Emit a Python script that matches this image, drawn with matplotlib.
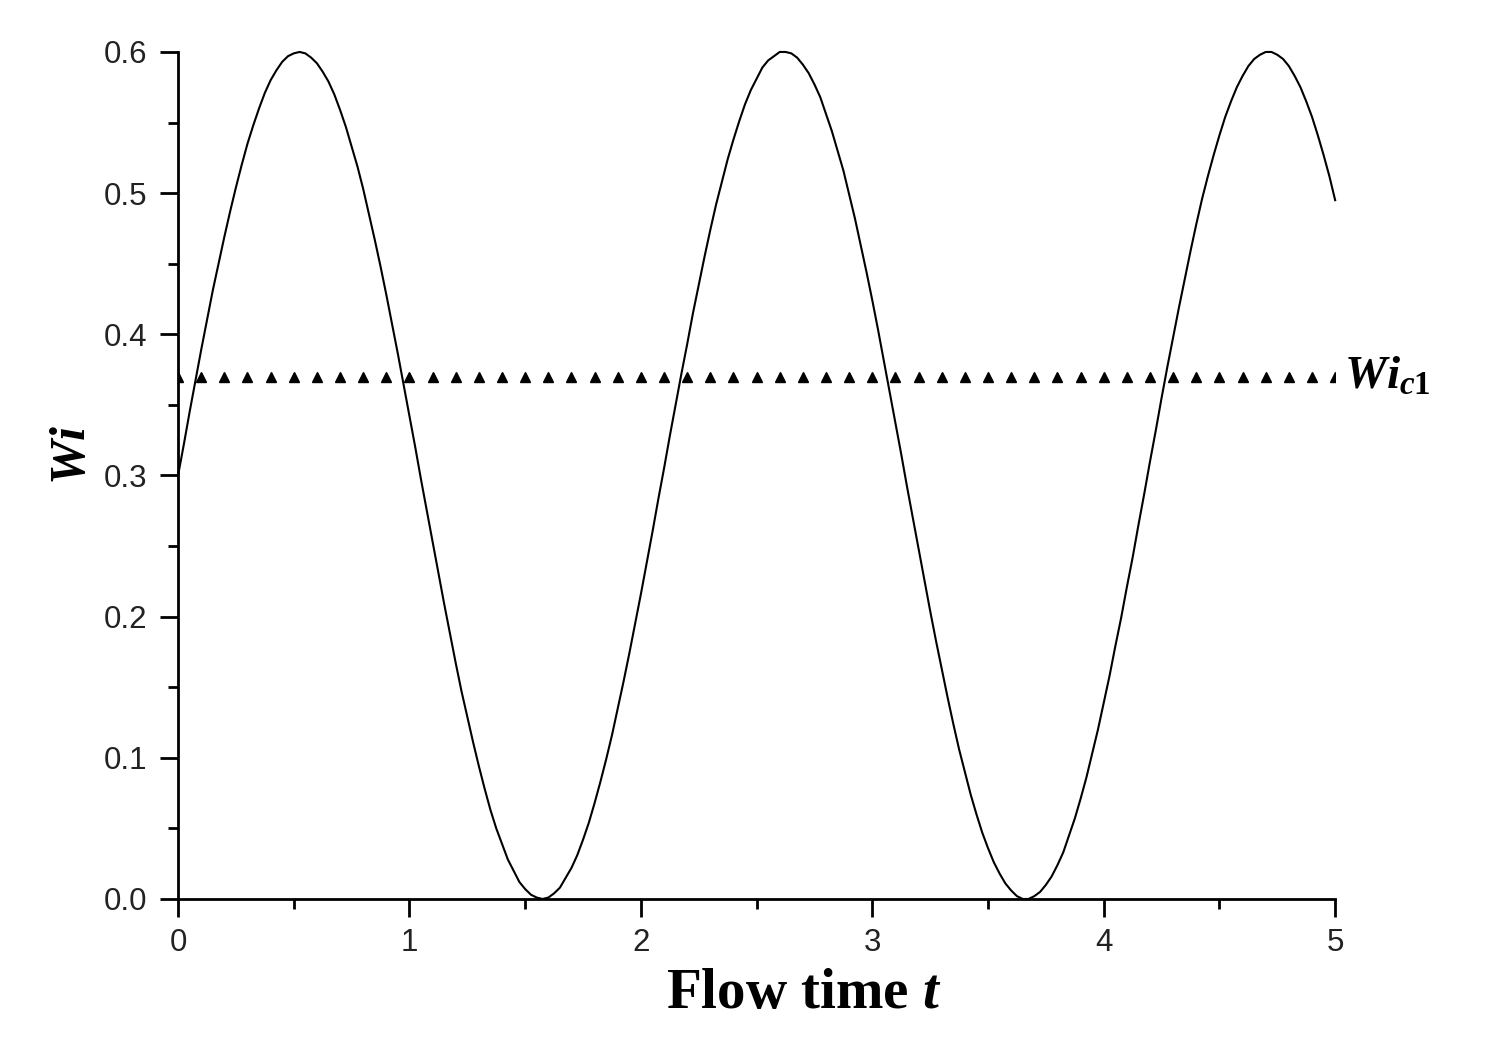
import numpy as np
import matplotlib
matplotlib.use("Agg")
import matplotlib.pyplot as plt
from matplotlib.ticker import MultipleLocator

plt.rcParams['mathtext.fontset'] = 'custom'
plt.rcParams['mathtext.rm'] = 'Liberation Serif:bold'
plt.rcParams['mathtext.it'] = 'Liberation Serif:italic:bold'
plt.rcParams['mathtext.bf'] = 'Liberation Serif:bold'

# Flow time samples (step 0.025) and Wi
flow_time = np.round(np.arange(0, 5.0001, 0.025), 3)
wi_values = [
    0.300, 0.322, 0.345, 0.367, 0.389, 0.410, 0.431, 0.450, 0.469, 0.487,
    0.504, 0.520, 0.535, 0.548, 0.560, 0.571, 0.580, 0.587, 0.593, 0.597,
    0.599, 0.600, 0.599, 0.596, 0.592, 0.586, 0.579, 0.570, 0.559, 0.547,
    0.533, 0.519, 0.503, 0.485, 0.467, 0.448, 0.428, 0.407, 0.386, 0.364,
    0.342, 0.320, 0.297, 0.275, 0.253, 0.231, 0.209, 0.188, 0.167, 0.147,
    0.129, 0.111, 0.094, 0.078, 0.063, 0.050, 0.039, 0.028, 0.020, 0.012,
    0.007, 0.003, 0.001, 0.000, 0.001, 0.004, 0.008, 0.015, 0.022, 0.031,
    0.042, 0.054, 0.068, 0.083, 0.099, 0.116, 0.135, 0.154, 0.174, 0.195,
    0.216, 0.238, 0.260, 0.283, 0.305, 0.328, 0.350, 0.372, 0.393, 0.415,
    0.435, 0.455, 0.474, 0.492, 0.508, 0.524, 0.538, 0.551, 0.563, 0.573,
    0.581, 0.589, 0.594, 0.597, 0.600, 0.600, 0.599, 0.596, 0.591, 0.585,
    0.577, 0.568, 0.556, 0.544, 0.530, 0.516, 0.499, 0.482, 0.463, 0.444,
    0.424, 0.403, 0.381, 0.359, 0.337, 0.315, 0.292, 0.270, 0.248, 0.226,
    0.204, 0.183, 0.163, 0.143, 0.124, 0.106, 0.090, 0.074, 0.060, 0.047,
    0.036, 0.026, 0.018, 0.011, 0.006, 0.002, 0.000, 0.000, 0.002, 0.005,
    0.010, 0.016, 0.024, 0.033, 0.045, 0.057, 0.071, 0.086, 0.103, 0.120,
    0.139, 0.158, 0.179, 0.199, 0.221, 0.242, 0.265, 0.287, 0.310, 0.332,
    0.355, 0.377, 0.398, 0.419, 0.439, 0.459, 0.478, 0.496, 0.512, 0.527,
    0.541, 0.554, 0.565, 0.575, 0.583, 0.590, 0.595, 0.598, 0.600, 0.600,
    0.598, 0.595, 0.590, 0.583, 0.575, 0.565, 0.554, 0.541, 0.527, 0.512,
    0.495,
]

# Critical Weissenberg number marker line
wic1_t = np.round(np.arange(0, 5.0001, 0.1), 2)
wic1_value = 0.37

x_ticks = [0, 1, 2, 3, 4, 5]
y_ticks = [0.0, 0.1, 0.2, 0.3, 0.4, 0.5, 0.6]

fig = plt.figure(figsize=(14.85, 10.56), dpi=100)
ax = fig.add_axes([0.1199, 0.1487, 0.7792, 0.8021])

ax.plot(flow_time, wi_values, color='black', lw=1.5, clip_on=False, zorder=3)
ax.plot(wic1_t, [wic1_value] * len(wic1_t), linestyle='none', marker='^',
        color='black', markersize=7.5, zorder=2)

ax.set_xlim(0, 5)
ax.set_ylim(0, 0.6)
ax.set_xticks(x_ticks)
ax.set_xticklabels([str(v) for v in x_ticks])
ax.set_yticks(y_ticks)
ax.set_yticklabels([f"{v:.1f}" for v in y_ticks])
ax.xaxis.set_minor_locator(MultipleLocator(0.5))
ax.yaxis.set_minor_locator(MultipleLocator(0.05))

for s in ['top', 'right']:
    ax.spines[s].set_visible(False)
for s in ['left', 'bottom']:
    ax.spines[s].set_linewidth(2.0)

ax.tick_params(which='major', direction='out', length=13, width=2.0,
               labelsize=22.5, colors='black')
ax.tick_params(axis='x', which='major', pad=8)
ax.tick_params(axis='y', which='major', pad=9)
ax.tick_params(which='minor', direction='out', length=7, width=2.0)
for lab in ax.get_xticklabels() + ax.get_yticklabels():
    lab.set_fontfamily('Liberation Sans')
    lab.set_color('#222222')

ax.text(0.541, -0.1287, "Flow time $t$", transform=ax.transAxes,
        fontfamily='Liberation Serif', fontweight='bold', fontsize=41,
        ha='center', va='baseline')
ax.text(-0.0804, 0.524, r"$Wi$", transform=ax.transAxes, fontsize=36,
        rotation=90, rotation_mode='anchor', ha='center', va='baseline')

ax.text(5.04, wic1_value, r"$Wi_{\mathit{c1}}$", fontsize=34,
        va='center', ha='left', transform=ax.transData, clip_on=False)

fig.savefig("out.png", dpi=100, facecolor='white')
